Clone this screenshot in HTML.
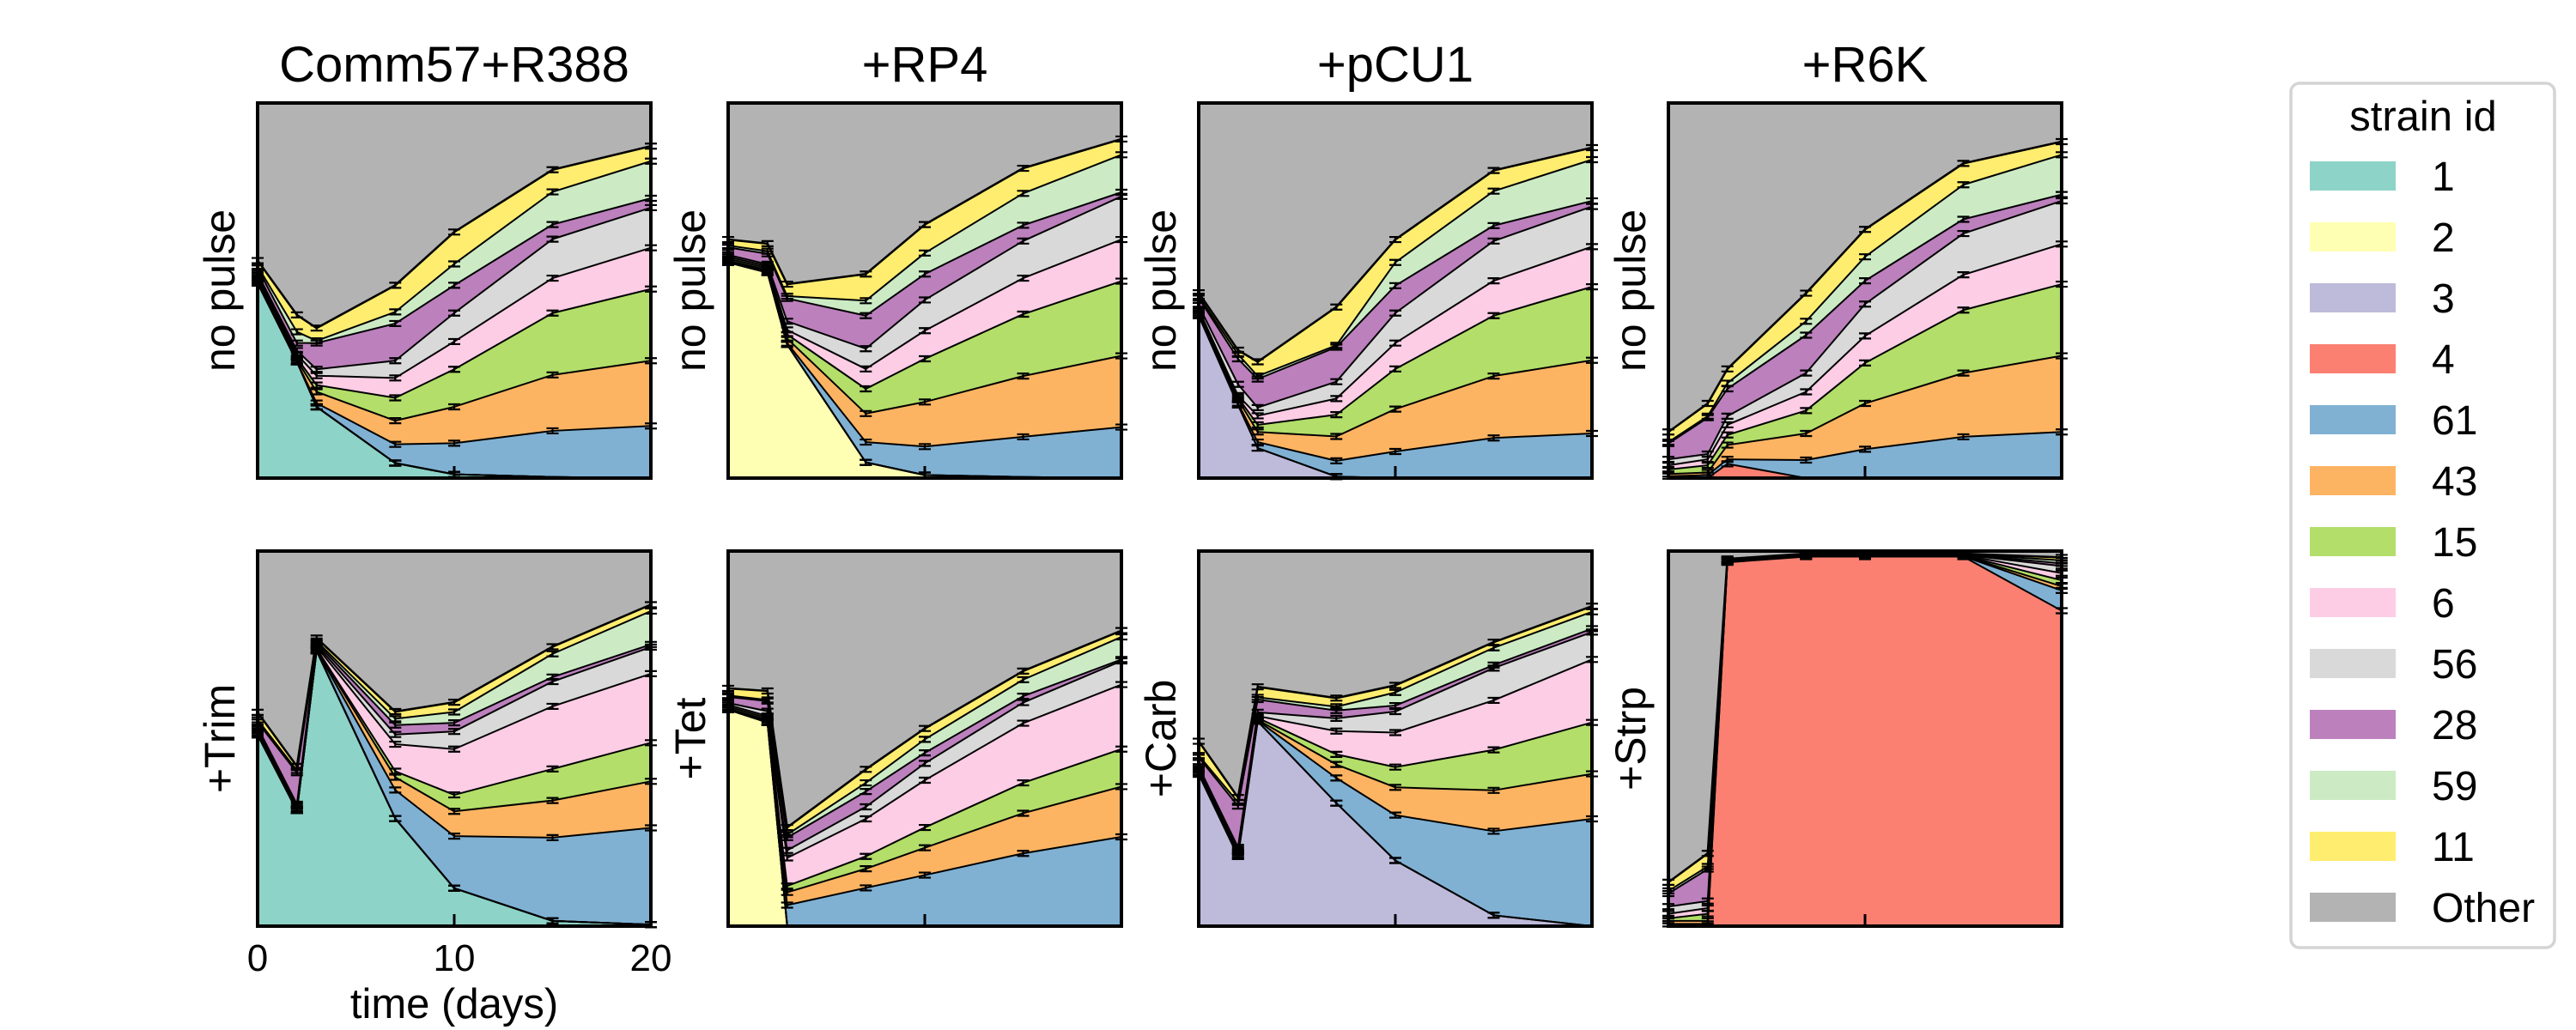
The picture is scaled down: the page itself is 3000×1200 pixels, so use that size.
<!DOCTYPE html>
<html><head><meta charset="utf-8">
<style>
html,body{margin:0;padding:0;background:#fff;}
svg{display:block;font-family:"Liberation Sans",Arial,sans-serif;}
</style></head>
<body>
<svg id="chart" width="3000" height="1200" viewBox="0 0 3000 1200" xmlns="http://www.w3.org/2000/svg">
<rect width="3000" height="1200" fill="#fff"/>
<g id="panels"></g>
<g id="legend">
  <rect x="2668" y="97" width="307" height="1007" rx="10" ry="10" fill="#fff" stroke="#d4d4d4" stroke-width="3.5"/>
  <text x="2822" y="152" font-size="49" text-anchor="middle">strain id</text>
  <g id="legend-entries"></g>
</g>
</svg>
<script>
const times = [0, 2, 3, 7, 10, 15, 20];
const strainIds = ["1","2","3","4","61","43","15","6","56","28","59","11"];
const strainColors = ["#8dd3c7","#ffffb3","#bebada","#fb8072","#80b1d3","#fdb462","#b3de69","#fccde5","#d9d9d9","#bc80bd","#ccebc5","#ffed6f"];
const otherColor = "#b3b3b3";
const columnTitles = ["Comm57+R388","+RP4","+pCU1","+R6K"];
const rowLabelsTop = ["no pulse","no pulse","no pulse","no pulse"];
const rowLabelsBottom = ["+Trim","+Tet","+Carb","+Strp"];
const xTickValues = [0, 10, 20];
const xTickLabels = ["0","10","20"];
const Z = [0,0,0,0,0,0,0];

// per-panel series (strain fractions), order: 1,2,3,4,61,43,15,6,56,28,59,11
const comm_nopulse = [
  [.52,.31,.19,.04,.01,.003,0], Z, Z, Z,
  [.005,0,.01,.05,.083,.123,.139],
  [.005,.005,.03,.063,.097,.149,.174],
  [.005,.005,.018,.061,.10,.165,.191],
  [.005,.01,.025,.053,.074,.093,.11],
  [.005,.01,.017,.046,.076,.104,.107],
  [.015,.02,.07,.099,.074,.039,.025],
  [.005,.03,.006,.031,.057,.087,.099],
  [.015,.045,.034,.071,.085,.059,.04]
];
const rp4_nopulse = [
  Z, [.575,.548,.356,.042,.008,.003,0], Z, Z,
  [.002,.002,.004,.054,.076,.107,.136],
  [.003,.005,.012,.076,.119,.162,.19],
  [.005,.005,.011,.066,.115,.165,.199],
  [.005,.005,.012,.053,.075,.096,.111],
  [.005,.005,.023,.054,.082,.099,.115],
  [.02,.028,.061,.088,.069,.042,.011],
  [.005,.007,.006,.04,.056,.085,.10],
  [.016,.02,.032,.071,.076,.067,.042]
];
const pcu1_nopulse = [
  Z, Z, [.433,.195,.08,.004,0,0,0], Z,
  [.002,.005,.016,.042,.071,.107,.119],
  [.005,.01,.027,.065,.113,.165,.195],
  [.005,.005,.019,.058,.107,.161,.196],
  [.005,.005,.024,.043,.069,.093,.107],
  [.01,.03,.022,.045,.08,.106,.107],
  [.02,.068,.076,.092,.073,.041,.015],
  [.005,.012,.008,.005,.062,.092,.11],
  [.009,.011,.038,.102,.061,.055,.032]
];
const r6k_nopulse = [
  Z, Z, Z, [0,0,.038,0,0,0,0],
  [.005,.008,.012,.048,.077,.11,.123],
  [.006,.007,.038,.071,.122,.17,.203],
  [.012,.019,.027,.061,.108,.168,.191],
  [.011,.016,.027,.05,.072,.094,.107],
  [.016,.014,.023,.05,.085,.11,.115],
  [.042,.097,.073,.101,.062,.038,.017],
  [.004,.004,.015,.037,.064,.092,.106],
  [.027,.034,.038,.075,.073,.057,.035]
];
const comm_trim = [
  [.51,.308,.734,.287,.101,.014,.004], Z, Z, Z,
  [.002,.002,.002,.076,.139,.222,.258],
  [.003,.002,.002,.034,.066,.099,.124],
  [.005,.003,.002,.016,.044,.084,.103],
  [.005,.005,.005,.072,.122,.167,.184],
  [.005,.005,.005,.026,.047,.066,.071],
  [.014,.084,.005,.025,.023,.012,.007],
  [.006,.006,.005,.017,.029,.062,.089],
  [.02,.011,.008,.019,.026,.019,.017]
];
const rp4_tet = [
  Z, [.577,.543,.002,0,0,0,0], Z, Z,
  [.001,.002,.054,.102,.136,.194,.238],
  [.002,.005,.034,.051,.073,.107,.134],
  [.005,.005,.017,.033,.054,.081,.10],
  [.005,.005,.075,.10,.126,.159,.172],
  [.005,.013,.02,.032,.045,.055,.063],
  [.016,.027,.034,.041,.028,.017,.004],
  [.004,.003,.008,.023,.036,.044,.06],
  [.019,.024,.019,.036,.029,.023,.017]
];
const pcu1_carb = [
  Z, Z, [.405,.186,.546,.328,.175,.029,0], Z,
  [.002,.004,.002,.067,.121,.224,.286],
  [.003,.005,.002,.036,.074,.109,.12],
  [.005,.005,.005,.027,.054,.108,.137],
  [.005,.005,.005,.062,.092,.132,.168],
  [.005,.005,.01,.034,.056,.086,.073],
  [.025,.11,.034,.021,.016,.008,.009],
  [.005,.01,.006,.01,.035,.046,.045],
  [.038,.013,.028,.023,.019,.015,.015]
];
const r6k_strp = [
  Z, Z, Z, [0,0,.97,.985,.985,.985,.841],
  [.006,.006,.002,.001,.001,.001,.054],
  [.008,.008,.001,.001,.001,.001,.011],
  [.007,.019,.001,.001,.001,.001,.016],
  [.012,.015,.001,.001,.001,.001,.019],
  [.019,.019,.001,.001,.001,.001,.019],
  [.035,.085,.001,.001,.001,.001,.007],
  [.007,.007,.001,.001,.001,.001,.008],
  [.023,.035,.001,.001,.001,.001,.008]
];
const panelData = [comm_nopulse, rp4_nopulse, pcu1_nopulse, r6k_nopulse, comm_trim, rp4_tet, pcu1_carb, r6k_strp];

const NS = "http://www.w3.org/2000/svg";
const panelLefts = [300, 848, 1396, 1943];
const rowTops = [120, 642];
const PW = 458, PH = 437;
const root = document.getElementById("panels");

function mk(tag, attrs, parent) {
  const e = document.createElementNS(NS, tag);
  for (const k in attrs) e.setAttribute(k, attrs[k]);
  parent.appendChild(e);
  return e;
}

panelData.forEach((series, p) => {
  const col = p % 4, row = Math.floor(p / 4);
  const L = panelLefts[col], T = rowTops[row];
  const xs = t => L + (t / 20) * PW;
  const ys = v => T + PH - v * PH;
  const g = mk("g", {}, root);
  
  
  const bg = mk("rect", {x: L, y: T, width: PW, height: PH, fill: otherColor}, g);
  
  
  let prev = times.map(() => 0);
  const tops = [];
  series.forEach((vals, s) => {
    const cur = prev.map((v, i) => v + vals[i]);
    let d = "M" + times.map((t, i) => xs(t) + "," + ys(cur[i])).join(" L");
    for (let i = times.length - 1; i >= 0; i--) d += " L" + xs(times[i]) + "," + ys(prev[i]);
    d += " Z";
    const a = mk("path", {d: d, fill: strainColors[s], stroke: strainColors[s], "stroke-width": 0.8}, g);
    
    
    tops.push(cur);
    prev = cur;
  });
  tops.forEach((cur, s) => {
    const top = s === tops.length - 1;
    const ln = mk("polyline", {points: times.map((t, i) => xs(t) + "," + ys(cur[i])).join(" "), fill: "none", stroke: "#000", "stroke-width": top ? 2.6 : 2, "stroke-linejoin": "round"}, g);
    
    
    times.forEach((t, i) => {
      if (cur[i] < 0.004) return;
      const x = xs(t), y = ys(cur[i]);
      const eb = mk("path", {d: `M${x - 7},${y - 3} H${x + 7} M${x - 7},${y + 3} H${x + 7} M${x},${y - 3} V${y + 3}`, stroke: "#000", "stroke-width": 2.2, fill: "none"}, g);
      
      
    });
  });
  xTickValues.forEach(v => {
    const tk = mk("line", {x1: xs(v), x2: xs(v), y1: T + PH, y2: T + PH - 14, stroke: "#000", "stroke-width": 3}, g);
    
    
  });
  const fr = mk("rect", {x: L, y: T, width: PW, height: PH, fill: "none", stroke: "#000", "stroke-width": 4}, g);
  
  
  const lbl = row === 0 ? rowLabelsTop[col] : rowLabelsBottom[col];
  const cy = T + PH / 2, bx = L - 27;
  const rl = mk("text", {x: bx, y: cy, transform: `rotate(-90 ${bx} ${cy})`, "font-size": 50, "text-anchor": "middle"}, g);
  rl.textContent = lbl;
  
  
  if (row === 0) {
    const tt = mk("text", {x: L + PW / 2, y: 95, "font-size": 58, "text-anchor": "middle"}, g);
    tt.textContent = columnTitles[col];
    
    
  }
  if (p === 4) {
    xTickValues.forEach((v, i) => {
      const tl = mk("text", {x: xs(v), y: 1131, "font-size": 44, "text-anchor": "middle"}, g);
      tl.textContent = xTickLabels[i];
      
      
    });
    const xl = mk("text", {x: L + PW / 2, y: 1186, "font-size": 49, "text-anchor": "middle"}, g);
    xl.textContent = "time (days)";
    
    
  }
});

const le = document.getElementById("legend-entries");
const legendNames = strainIds.concat(["Other"]);
const legendColors = strainColors.concat([otherColor]);
legendNames.forEach((n, i) => {
  const y = 188 + i * 71;
  const g = mk("g", {}, le);
  
  
  mk("rect", {x: 2690, y: y, width: 100, height: 34, fill: legendColors[i]}, g);
  const t = mk("text", {x: 2832, y: y + 34, "font-size": 48}, g);
  t.textContent = n;
});
</script>
</body></html>
